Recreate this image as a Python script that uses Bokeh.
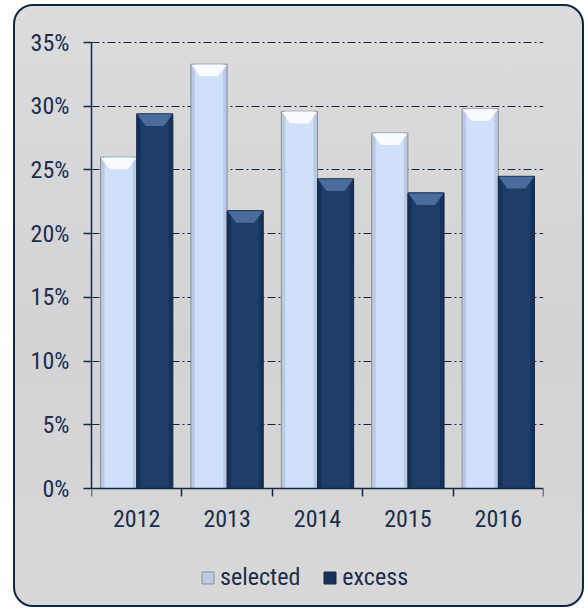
from bokeh.plotting import figure
from bokeh.models import FixedTicker, Legend, LegendItem, Range1d
from bokeh.embed import file_html
from bokeh.resources import INLINE

# ---- data ----
years = ["2012", "2013", "2014", "2015", "2016"]
selected = [26.0, 33.3, 29.6, 27.9, 29.8]
excess = [29.4, 21.8, 24.3, 23.2, 24.5]
y_ticks = [0, 5, 10, 15, 20, 25, 30, 35]

NAVY = "#11284a"
TEXT = "#1b2e4e"
FONT = "'Liberation Sans Narrow', 'Arial Narrow', 'Roboto Condensed', 'Open Sans', sans-serif"

CW, CH = 571, 603  # canvas size (inside 2px CSS border)
TOP, ZERO, BOTTOM = 36, 482, 592  # canvas px of 35%, 0% and frame bottom
PAD = 4  # px of frame above the 35% line so its grid line is not clipped
y_max = y_ticks[-1]
ppu = (ZERO - TOP) / y_max
y_min = -(BOTTOM - ZERO) / ppu  # frame extends below 0 to hold the legend
y_top = y_max + PAD / ppu

p = figure(
    width=CW, height=CH,
    x_range=Range1d(0, len(years)), y_range=Range1d(y_min, y_top),
    output_backend="svg", toolbar_location=None,
    min_border_left=76, min_border_right=43, min_border_top=TOP - PAD, min_border_bottom=CH - BOTTOM,
    background_fill_color=None, border_fill_color=None, outline_line_color=None,
    margin=(4, 0, 0, 13),
    styles={
        "border": "2px solid #0f2646",
        "border-radius": "20px",
        "background": "linear-gradient(180deg, #dcdcdc 0%, #d3d3d3 55%, #d8d8d8 100%)",
    },
)

# ---- bars ----
bw = 0.4
xs_sel = [i + 0.5 - bw / 2 for i in range(len(years))]
xs_exc = [i + 0.5 + bw / 2 for i in range(len(years))]

r_sel = p.vbar(x=xs_sel, top=selected, bottom=0, width=bw,
               fill_color="#b9cae2", line_color="#868d97", line_width=1)
p.vbar(x=xs_sel, top=selected, bottom=0, width=bw * 0.78,
       fill_color="#cfe0f8", line_color=None)
r_exc = p.vbar(x=xs_exc, top=excess, bottom=0, width=bw,
               fill_color="#16315a", line_color="#142842", line_width=1)
p.vbar(x=xs_exc, top=excess, bottom=0, width=bw * 0.78,
       fill_color="#1f3d69", line_color=None)

# bevels at the top of each bar
bev = 0.95
ins = 0.1
def bevel(xc, tops):
    px, py = [], []
    for x, t in zip(xc, tops):
        px.append([x - bw / 2 + 0.005, x + bw / 2 - 0.005, x + bw / 2 - ins, x - bw / 2 + ins])
        py.append([t - 0.04, t - 0.04, t - bev, t - bev])
    return px, py

bx, by = bevel(xs_sel, selected)
p.patches(bx, by, fill_color="#fbfdff", line_color=None, fill_alpha=0.95)
bx, by = bevel(xs_exc, excess)
p.patches(bx, by, fill_color="#4f72a3", line_color=None, fill_alpha=0.9)

# ---- axes ----
xa = p.xaxis[0]
xa.fixed_location = 0
xa.ticker = FixedTicker(ticks=[i + 0.5 for i in range(len(years))],
                        minor_ticks=list(range(len(years) + 1)))
xa.major_label_overrides = {i + 0.5: y for i, y in enumerate(years)}
xa.major_tick_line_color = None
xa.minor_tick_line_color = NAVY
xa.minor_tick_line_width = 1.5
xa.minor_tick_out = 8
xa.minor_tick_in = 0
xa.axis_line_color = NAVY
xa.axis_line_width = 1.5
xa.major_label_text_font = FONT
xa.major_label_text_font_size = "24px"
xa.major_label_text_color = TEXT
xa.major_label_standoff = 13

ya = p.yaxis[0]
ya.bounds = (0, y_max)
ya.ticker = FixedTicker(ticks=y_ticks)
ya.major_label_overrides = {t: f"{t}%" for t in y_ticks}
ya.major_tick_line_color = NAVY
ya.major_tick_line_width = 1.5
ya.major_tick_out = 8
ya.major_tick_in = 0
ya.minor_tick_line_color = None
ya.axis_line_color = NAVY
ya.axis_line_width = 1.5
ya.major_label_text_font = FONT
ya.major_label_text_font_size = "24px"
ya.major_label_text_color = TEXT
ya.major_label_standoff = 14

p.xgrid.visible = False
p.ygrid.ticker = FixedTicker(ticks=y_ticks[1:])
p.ygrid.bounds = (0, len(years) - 0.05)
p.ygrid.grid_line_color = NAVY
p.ygrid.grid_line_width = 1
p.ygrid.grid_line_dash = "8 3 2 3"

# ---- legend ----
legend = Legend(
    items=[LegendItem(label="selected", renderers=[r_sel]),
           LegendItem(label="excess", renderers=[r_exc])],
    orientation="horizontal", location=(109, 7),
    glyph_width=15, glyph_height=15, label_standoff=5, spacing=22,
    padding=0, margin=0, border_line_color=None, background_fill_alpha=0,
    label_text_font=FONT, label_text_font_size="24px", label_text_color=TEXT,
)
p.add_layout(legend, "center")

open("out.html", "w").write(file_html(p, INLINE))
